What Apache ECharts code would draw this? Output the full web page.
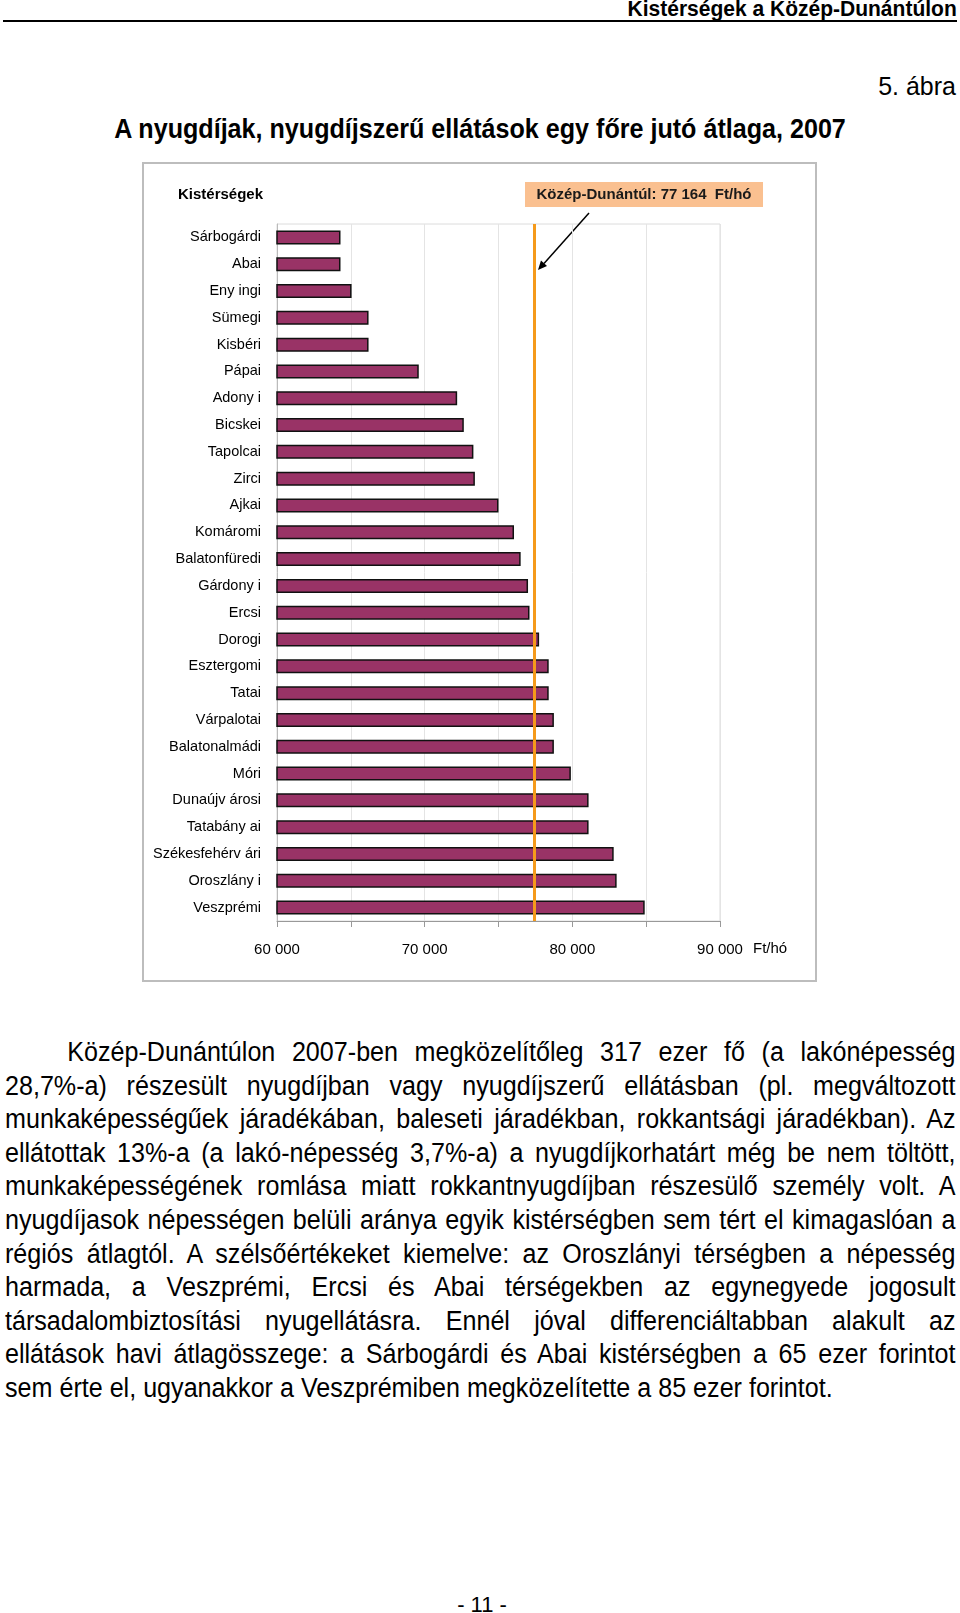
<!DOCTYPE html>
<html>
<head>
<meta charset="utf-8">
<title>A nyugdíjak, nyugdíjszerű ellátások egy főre jutó átlaga, 2007</title>
<script src="https://cdn.jsdelivr.net/npm/echarts@6/dist/echarts.min.js"></script>
<style>
  html, body { margin: 0; padding: 0; background: #fff; }
  body { width: 960px; height: 1613px; position: relative; overflow: hidden; font-family: "Liberation Sans", Arial, sans-serif; color: #000; }
  .head { position: absolute; left: 3px; top: 0; width: 954px; height: 20px; border-bottom: 2.5px solid #000; }
  .head span { position: absolute; right: 0; bottom: 0; font-weight: bold; font-size: 22px; line-height: 22px; white-space: nowrap; transform: scaleX(0.955); transform-origin: right bottom; }
  .abra { position: absolute; right: 4px; top: 71px; font-size: 26px; line-height: 30px; transform: scaleX(0.96); transform-origin: right top; }
  .title { position: absolute; left: 0; width: 960px; top: 113px; text-align: center; font-weight: bold; font-size: 27px; line-height: 32px; transform: scaleX(0.93); }
  #chart { position: absolute; left: 0; top: 0; width: 960px; height: 1000px; }
  .text { position: absolute; left: 5px; top: 1036px; width: 1022px; font-size: 27px; line-height: 33.6px; transform: scaleX(0.93); transform-origin: left top; }
  .text div { text-align: justify; text-align-last: justify; white-space: nowrap; }
  .text div.first { padding-left: 67px; }
  .text div.last { text-align-last: left; }
  .pageno { position: absolute; left: 0; width: 964px; top: 1592px; text-align: center; font-size: 22px; line-height: 26px; }
</style>
</head>
<body>
<div class="head"><span>Kistérségek a Közép-Dunántúlon</span></div>
<div class="abra">5. ábra</div>
<div class="title">A nyugdíjak, nyugdíjszerű ellátások egy főre jutó átlaga, 2007</div>
<div id="chart"></div>
<div class="text">
  <div class="first">Közép-Dunántúlon 2007-ben megközelítőleg 317 ezer fő (a lakónépesség</div>
  <div>28,7%-a) részesült nyugdíjban vagy nyugdíjszerű ellátásban (pl. megváltozott</div>
  <div>munkaképességűek járadékában, baleseti járadékban, rokkantsági járadékban). Az</div>
  <div>ellátottak 13%-a (a lakó-népesség 3,7%-a) a nyugdíjkorhatárt még be nem töltött,</div>
  <div>munkaképességének romlása miatt rokkantnyugdíjban részesülő személy volt. A</div>
  <div>nyugdíjasok népességen belüli aránya egyik kistérségben sem tért el kimagaslóan a</div>
  <div>régiós átlagtól. A szélsőértékeket kiemelve: az Oroszlányi térségben a népesség</div>
  <div>harmada, a Veszprémi, Ercsi és Abai térségekben az egynegyede jogosult</div>
  <div>társadalombiztosítási nyugellátásra. Ennél jóval differenciáltabban alakult az</div>
  <div>ellátások havi átlagösszege: a Sárbogárdi és Abai kistérségben a 65 ezer forintot</div>
  <div class="last">sem érte el, ugyanakkor a Veszprémiben megközelítette a 85 ezer forintot.</div>
</div>
<div class="pageno">- 11 -</div>

<script>
// kistérségek, felülről lefelé
const regions = ['Sárbogárdi', 'Abai', 'Eny ingi', 'Sümegi', 'Kisbéri', 'Pápai', 'Adony i', 'Bicskei',
  'Tapolcai', 'Zirci', 'Ajkai', 'Komáromi', 'Balatonfüredi', 'Gárdony i', 'Ercsi', 'Dorogi',
  'Esztergomi', 'Tatai', 'Várpalotai', 'Balatonalmádi', 'Móri', 'Dunaújv árosi', 'Tatabány ai',
  'Székesfehérv ári', 'Oroszlány i', 'Veszprémi'];
// átlagos ellátás, Ft/hó (leolvasva)
const pensions = [64300, 64300, 65050, 66200, 66200, 69600, 72200, 72650,
  73300, 73400, 75000, 76050, 76500, 77000, 77100, 77750,
  78400, 78400, 78750, 78750, 79900, 81100, 81100,
  82800, 83000, 84900];
// régiós átlag vonala
const regionAvg = [77450];
const xTicks = [60000, 70000, 80000, 90000];

const fmt = v => String(v).replace(/\B(?=(\d{3})+(?!\d))/g, ' ');
const font = '"Liberation Sans", Arial, sans-serif';

const chart = echarts.init(document.getElementById('chart'), null, { renderer: 'canvas' });
const option = {
  animation: false,
  grid: {
    left: 277, top: 224, width: 443, height: 697,
    show: true, borderColor: '#dcdcdc', borderWidth: 1
  },
  xAxis: {
    type: 'value',
    min: 60000, max: 90000, interval: 5000,
    axisLine: { show: true, lineStyle: { color: '#999', width: 1 } },
    axisTick: { show: true, length: 6, lineStyle: { color: '#999' } },
    splitLine: { show: true, lineStyle: { color: '#e4e4e4', width: 1 } },
    axisLabel: {
      margin: 21, fontSize: 15, color: '#000', fontFamily: font,
      formatter: v => xTicks.indexOf(v) >= 0 ? fmt(v) : ''
    },
    name: 'Ft/hó',
    nameLocation: 'end',
    nameGap: 33,
    nameTextStyle: { fontSize: 15, color: '#000', fontFamily: font, verticalAlign: 'top', padding: [20, 0, 0, 0] }
  },
  yAxis: {
    type: 'category',
    inverse: true,
    data: regions,
    axisLine: { show: true, lineStyle: { color: '#bbb' } },
    axisTick: { show: false },
    axisLabel: { margin: 16, fontSize: 14.5, color: '#000', fontFamily: font }
  },
  series: [{
    type: 'bar',
    data: pensions,
    barWidth: 14,
    itemStyle: { color: '#993366', borderColor: '#111', borderWidth: 1.5 },
    markLine: {
      silent: true,
      symbol: 'none',
      label: { show: false },
      lineStyle: { color: '#f59a1b', width: 3, type: 'solid' },
      data: regionAvg.map(v => ({ xAxis: v }))
    }
  }],
  graphic: [
    // keret
    { type: 'rect', shape: { x: 143, y: 163, width: 673, height: 818 }, style: { fill: 'none', stroke: '#bdbdbd', lineWidth: 2 }, z: 0 },
    { type: 'text', left: 178, top: 187, style: { text: 'Kistérségek', font: 'bold 15px ' + font, fill: '#000' } },
    // régiós átlag felirat
    { type: 'rect', shape: { x: 525, y: 182, width: 238, height: 25 }, style: { fill: '#fac090' } },
    { type: 'text', x: 644, y: 194.5, style: { text: 'Közép-Dunántúl: 77 164  Ft/hó', font: 'bold 15px ' + font, fill: '#1a1a1a', align: 'center', verticalAlign: 'middle' } },
    // nyíl
    { type: 'line', shape: { x1: 589, y1: 213, x2: 544, y2: 263.5 }, style: { stroke: '#000', lineWidth: 1.5 } },
    { type: 'polygon', shape: { points: [[538, 270], [547, 266], [541, 260.5]] }, style: { fill: '#000' } }
  ]
};
chart.setOption(option);
</script>
</body>
</html>
